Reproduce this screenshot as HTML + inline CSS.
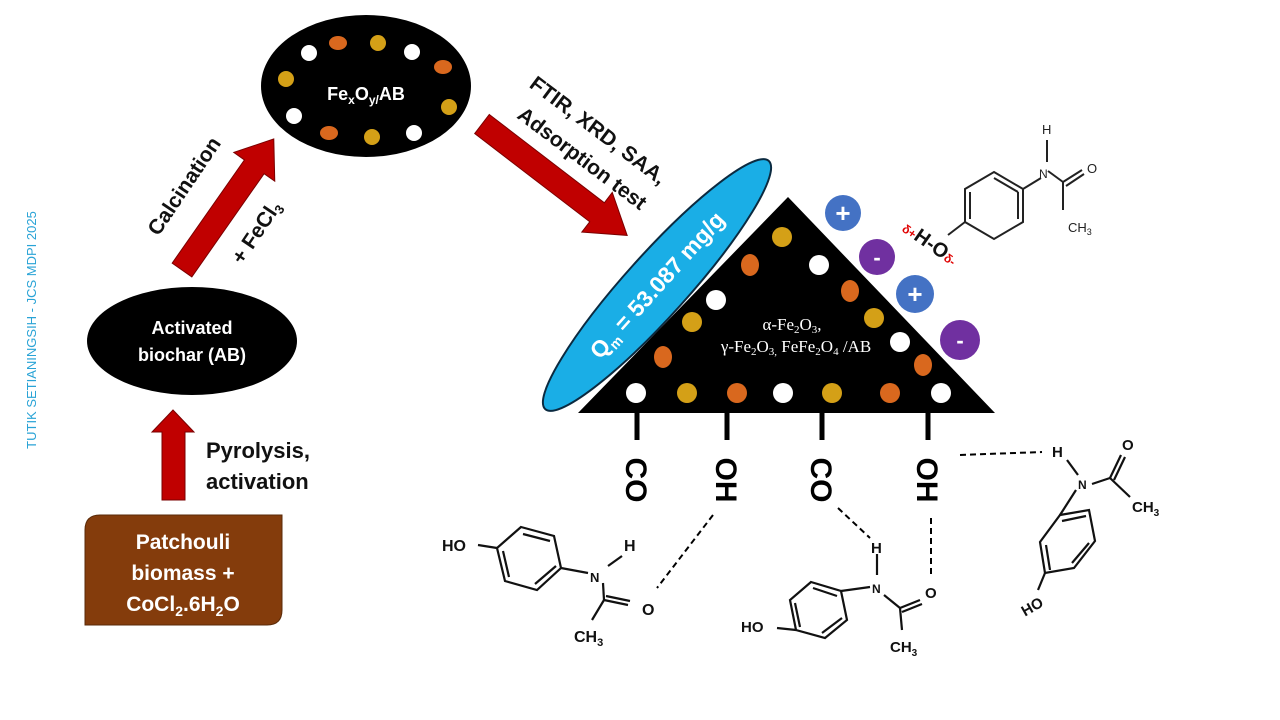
<!DOCTYPE html>
<html><head><meta charset="utf-8"><style>
html,body{margin:0;padding:0;background:#fff;}
svg{display:block;font-family:"Liberation Sans",sans-serif;}
</style></head><body>
<svg width="1280" height="720" viewBox="0 0 1280 720" xmlns="http://www.w3.org/2000/svg">
<rect width="1280" height="720" fill="#fff"/>
<text transform="translate(36,330) rotate(-90)" text-anchor="middle" font-size="13" fill="#29a3d6">TUTIK SETIANINGSIH - JCS MDPI 2025</text>

<path d="M100,515 H282 V610 Q282,625 267,625 H85 V530 Q85,515 100,515 Z" fill="#843c0c" stroke="#5a2a08" stroke-width="1"/>
<g fill="#fff" font-weight="bold" font-size="21" text-anchor="middle">
<text x="183" y="549">Patchouli</text>
<text x="183" y="580">biomass +</text>
<text x="183" y="611">CoCl<tspan font-size="14" dy="5">2</tspan><tspan dy="-5">.6H</tspan><tspan font-size="14" dy="5">2</tspan><tspan dy="-5">O</tspan></text>
</g>

<polygon points="162,500 185,500 185,432 194,432 173,410 152,432 162,432" fill="#c00000" stroke="#7a0000" stroke-width="1"/>
<g font-weight="bold" font-size="22" fill="#111">
<text x="206" y="458">Pyrolysis,</text>
<text x="206" y="489">activation</text>
</g>

<ellipse cx="192" cy="341" rx="105" ry="54" fill="#000"/>
<g fill="#fff" font-weight="bold" font-size="18" text-anchor="middle">
<text x="192" y="334">Activated</text>
<text x="192" y="361">biochar (AB)</text>
</g>

<g transform="translate(182,270) rotate(-55)">
<polygon points="0,-12 126,-12 126,-25 160,0 126,25 126,12 0,12" fill="#c00000" stroke="#7a0000" stroke-width="1"/>
</g>
<text transform="translate(190,190) rotate(-56)" text-anchor="middle" font-weight="bold" font-size="21" fill="#111">Calcination</text>
<text transform="translate(262,236) rotate(-56)" text-anchor="middle" font-weight="bold" font-size="21" fill="#111">+ FeCl<tspan font-size="13" dy="4">3</tspan></text>

<ellipse cx="366" cy="86" rx="105" ry="71" fill="#000"/>
<g>
<circle cx="309" cy="53" r="8" fill="#fff"/>
<ellipse cx="338" cy="43" rx="9" ry="7" fill="#d9681e"/>
<circle cx="378" cy="43" r="8" fill="#d4a017"/>
<circle cx="412" cy="52" r="8" fill="#fff"/>
<ellipse cx="443" cy="67" rx="9" ry="7" fill="#d9681e"/>
<circle cx="286" cy="79" r="8" fill="#d4a017"/>
<circle cx="449" cy="107" r="8" fill="#d4a017"/>
<circle cx="294" cy="116" r="8" fill="#fff"/>
<ellipse cx="329" cy="133" rx="9" ry="7" fill="#d9681e"/>
<circle cx="372" cy="137" r="8" fill="#d4a017"/>
<circle cx="414" cy="133" r="8" fill="#fff"/>
</g>
<text x="366" y="100" text-anchor="middle" font-weight="bold" font-size="18" fill="#fff">Fe<tspan font-size="12" dy="4">x</tspan><tspan dy="-4">O</tspan><tspan font-size="12" dy="4">y/</tspan><tspan dy="-4">AB</tspan></text>

<g transform="translate(482,124) rotate(37.5)">
<polygon points="0,-12 145,-12 145,-25 183,0 145,25 145,12 0,12" fill="#c00000" stroke="#7a0000" stroke-width="1"/>
</g>
<g font-weight="bold" font-size="21" fill="#111" text-anchor="middle">
<text transform="translate(594,136) rotate(37)">FTIR, XRD, SAA,</text>
<text transform="translate(578,164) rotate(37)">Adsorption test</text>
</g>

<g transform="translate(657,285) rotate(-48)">
<ellipse cx="0" cy="0" rx="167" ry="31" fill="#1aaee6" stroke="#0b2a40" stroke-width="2"/>
<text x="0" y="8" text-anchor="middle" font-weight="bold" font-size="23" fill="#fff">Q<tspan font-size="14" dy="5">m</tspan><tspan dy="-5"> = 53.087 mg/g</tspan></text>
</g>

<polygon points="578,413 788,197 995,413" fill="#000"/>
<g>
<circle cx="782" cy="237" r="10" fill="#d4a017"/>
<ellipse cx="750" cy="265" rx="9" ry="11" fill="#d9681e"/>
<circle cx="819" cy="265" r="10" fill="#fff"/>
<ellipse cx="850" cy="291" rx="9" ry="11" fill="#d9681e"/>
<circle cx="716" cy="300" r="10" fill="#fff"/>
<circle cx="692" cy="322" r="10" fill="#d4a017"/>
<circle cx="874" cy="318" r="10" fill="#d4a017"/>
<circle cx="900" cy="342" r="10" fill="#fff"/>
<ellipse cx="663" cy="357" rx="9" ry="11" fill="#d9681e"/>
<ellipse cx="923" cy="365" rx="9" ry="11" fill="#d9681e"/>
<circle cx="636" cy="393" r="10" fill="#fff"/>
<circle cx="687" cy="393" r="10" fill="#d4a017"/>
<circle cx="737" cy="393" r="10" fill="#d9681e"/>
<circle cx="783" cy="393" r="10" fill="#fff"/>
<circle cx="832" cy="393" r="10" fill="#d4a017"/>
<circle cx="890" cy="393" r="10" fill="#d9681e"/>
<circle cx="941" cy="393" r="10" fill="#fff"/>
</g>
<g fill="#fff" font-family="'Liberation Serif',serif" font-size="17" text-anchor="middle">
<text x="792" y="330">α-Fe<tspan font-size="11" dy="3">2</tspan><tspan dy="-3">O</tspan><tspan font-size="11" dy="3">3</tspan><tspan dy="-3">,</tspan></text>
<text x="796" y="352">γ-Fe<tspan font-size="11" dy="3">2</tspan><tspan dy="-3">O</tspan><tspan font-size="11" dy="3">3,</tspan><tspan dy="-3"> FeFe</tspan><tspan font-size="11" dy="3">2</tspan><tspan dy="-3">O</tspan><tspan font-size="11" dy="3">4</tspan><tspan dy="-3"> /AB</tspan></text>
</g>

<g font-weight="bold" fill="#fff" text-anchor="middle">
<circle cx="843" cy="213" r="18" fill="#4472c4"/><text x="843" y="222" font-size="26">+</text>
<circle cx="877" cy="257" r="18" fill="#7030a0"/><text x="877" y="265" font-size="22">-</text>
<circle cx="915" cy="294" r="19" fill="#4472c4"/><text x="915" y="303" font-size="26">+</text>
<circle cx="960" cy="340" r="20" fill="#7030a0"/><text x="960" y="348" font-size="22">-</text>
</g>

<g stroke="#000" stroke-width="5">
<line x1="637" y1="413" x2="637" y2="440"/>
<line x1="727" y1="413" x2="727" y2="440"/>
<line x1="822" y1="413" x2="822" y2="440"/>
<line x1="928" y1="413" x2="928" y2="440"/>
</g>
<g font-weight="bold" font-size="30" fill="#000" text-anchor="middle">
<text transform="translate(626,480) rotate(90)">CO</text>
<text transform="translate(716,480) rotate(90)">OH</text>
<text transform="translate(811,480) rotate(90)">CO</text>
<text transform="translate(917,480) rotate(90)">OH</text>
</g>

<g stroke="#000" stroke-width="2" stroke-dasharray="6,4" fill="none">
<line x1="713" y1="515" x2="657" y2="588"/>
<line x1="838" y1="508" x2="870" y2="538"/>
<line x1="931" y1="518" x2="931" y2="576"/>
<line x1="960" y1="455" x2="1042" y2="452"/>
</g>

<g stroke="#222" stroke-width="2" fill="none">
<polygon points="994,172 1023,189 1023,222 994,239 965,222 965,189"/>
<line x1="1018" y1="192" x2="1018" y2="219"/>
<line x1="970" y1="192" x2="970" y2="219"/>
<line x1="994" y1="178" x2="1018" y2="192"/>
<line x1="965" y1="222" x2="948" y2="235"/>
<line x1="1023" y1="189" x2="1041" y2="178"/>
<line x1="1048" y1="171" x2="1063" y2="182"/>
<line x1="1063" y1="182" x2="1082" y2="170"/>
<line x1="1066" y1="186" x2="1084" y2="174"/>
<line x1="1063" y1="182" x2="1063" y2="210"/>
<line x1="1047" y1="140" x2="1047" y2="162"/>
</g>
<g font-size="13" fill="#222">
<text x="1042" y="134">H</text>
<text x="1039" y="178" font-size="12">N</text>
<text x="1087" y="173">O</text>
<text x="1068" y="232">CH<tspan font-size="9" dy="3">3</tspan></text>
</g>
<text x="900" y="246" font-size="20" font-weight="bold" fill="#111" transform="rotate(35 925 240)"><tspan fill="#e00000" font-size="12">δ+</tspan>H-O<tspan fill="#e00000" font-size="12">δ-</tspan></text>

<g stroke="#111" stroke-width="2.2" fill="none">
<polygon points="521,527 554,536 561,568 537,590 505,581 497,548"/>
<line x1="523" y1="534" x2="550" y2="541"/>
<line x1="556" y1="566" x2="535" y2="584"/>
<line x1="503" y1="551" x2="509" y2="577"/>
<line x1="497" y1="548" x2="478" y2="545"/>
<line x1="561" y1="568" x2="588" y2="573"/>
<line x1="608" y1="566" x2="622" y2="556"/>
<line x1="603" y1="583" x2="604" y2="600"/>
<line x1="604" y1="600" x2="628" y2="605"/>
<line x1="606" y1="596" x2="630" y2="601"/>
<line x1="604" y1="600" x2="592" y2="620"/>
</g>
<g font-size="16" font-weight="bold" fill="#111">
<text x="442" y="551">HO</text>
<text x="624" y="551">H</text>
<text x="590" y="582" font-size="13">N</text>
<text x="642" y="615">O</text>
<text x="574" y="642">CH<tspan font-size="11" dy="4">3</tspan></text>
</g>

<g stroke="#111" stroke-width="2.2" fill="none">
<polygon points="811,582 841,591 847,620 825,638 796,630 790,600"/>
<line x1="813" y1="588" x2="837" y2="596"/>
<line x1="842" y1="618" x2="822" y2="633"/>
<line x1="795" y1="603" x2="800" y2="627"/>
<line x1="796" y1="630" x2="777" y2="628"/>
<line x1="841" y1="591" x2="870" y2="587"/>
<line x1="877" y1="554" x2="877" y2="575"/>
<line x1="884" y1="595" x2="900" y2="608"/>
<line x1="900" y1="608" x2="920" y2="600"/>
<line x1="902" y1="612" x2="922" y2="604"/>
<line x1="900" y1="608" x2="902" y2="630"/>
</g>
<g font-size="15" font-weight="bold" fill="#111">
<text x="871" y="553">H</text>
<text x="872" y="593" font-size="12">N</text>
<text x="925" y="598">O</text>
<text x="741" y="632">HO</text>
<text x="890" y="652">CH<tspan font-size="10" dy="4">3</tspan></text>
</g>

<g stroke="#111" stroke-width="2.2" fill="none">
<polygon points="1060,515 1089,510 1095,541 1074,568 1045,573 1040,542"/>
<line x1="1062" y1="521" x2="1086" y2="516"/>
<line x1="1089" y1="543" x2="1072" y2="563"/>
<line x1="1046" y1="545" x2="1050" y2="570"/>
<line x1="1060" y1="515" x2="1076" y2="490"/>
<line x1="1045" y1="573" x2="1038" y2="590"/>
<line x1="1067" y1="460" x2="1078" y2="475"/>
<line x1="1092" y1="484" x2="1110" y2="478"/>
<line x1="1110" y1="478" x2="1121" y2="455"/>
<line x1="1114" y1="480" x2="1125" y2="457"/>
<line x1="1110" y1="478" x2="1130" y2="497"/>
</g>
<g font-size="15" font-weight="bold" fill="#111">
<text x="1052" y="457">H</text>
<text x="1078" y="489" font-size="12">N</text>
<text x="1122" y="450">O</text>
<text x="1132" y="512">CH<tspan font-size="10" dy="4">3</tspan></text>
<text x="1020" y="610" transform="rotate(-30 1035 604)">HO</text>
</g>
</svg>
</body></html>
